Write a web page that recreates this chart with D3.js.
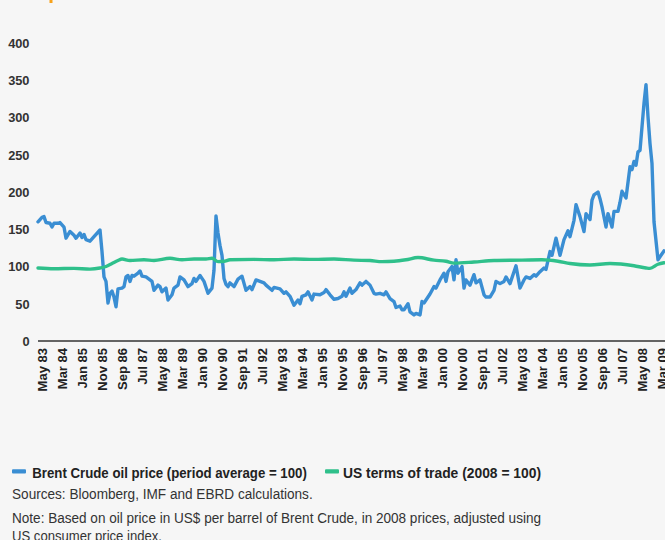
<!DOCTYPE html>
<html><head><meta charset="utf-8">
<script src="https://cdn.jsdelivr.net/npm/d3@7/dist/d3.min.js"></script>
<style>
html,body{margin:0;padding:0;background:#f6f6f6;}
svg{display:block;}
</style></head>
<body>
<script>
const seriesNames = ["Brent Crude oil price (period average = 100)", "US terms of trade (2008 = 100)"];
const seriesColors = ["#3a8ed3", "#2fc08b"];
const yTicks = [0, 50, 100, 150, 200, 250, 300, 350, 400];
const xTickLabels = ["May 83","Mar 84","Jan 85","Nov 85","Sep 86","Jul 87","May 88","Mar 89","Jan 90","Nov 90","Sep 91","Jul 92","May 93","Mar 94","Jan 95","Nov 95","Sep 96","Jul 97","May 98","Mar 99","Jan 00","Nov 00","Sep 01","Jul 02","May 03","Mar 04","Jan 05","Nov 05","Sep 06","Jul 07","May 08","Mar 09"];
const brent = [
["1983-03",160],["1983-05",166],["1983-06",167],["1983-07",159],["1983-09",158],["1983-10",153],["1983-11",158],
["1984-01",158],["1984-02",159],["1984-03",156],["1984-04",153],["1984-05",138],["1984-07",147],["1984-09",142],["1984-10",138],["1984-12",145],
["1985-01",139],["1985-02",143],["1985-03",136],["1985-05",134],["1985-07",140],["1985-10",149],["1985-11",120],["1985-12",86],
["1986-01",80],["1986-02",51],["1986-03",64],["1986-04",67],["1986-05",59],["1986-06",46],["1986-07",70],["1986-09",71],["1986-10",73],["1986-11",86],["1986-12",88],
["1987-01",80],["1987-02",88],["1987-03",87],["1987-05",91],["1987-06",94],["1987-07",87],["1987-09",86],["1987-11",82],["1987-12",80],
["1988-01",68],["1988-03",75],["1988-04",73],["1988-05",66],["1988-07",71],["1988-08",55],["1988-10",62],["1988-11",71],
["1989-01",75],["1989-02",86],["1989-04",82],["1989-06",73],["1989-08",77],["1989-09",84],["1989-10",80],["1989-12",88],
["1990-02",80],["1990-04",64],["1990-06",71],["1990-07",95],["1990-08",168],["1990-09",145],["1990-10",128],["1990-11",115],["1990-12",84],
["1991-01",76],["1991-02",73],["1991-03",78],["1991-05",73],["1991-07",83],["1991-09",87],["1991-11",68],
["1992-01",73],["1992-02",69],["1992-04",82],["1992-06",80],["1992-08",78],["1992-09",75],["1992-12",68],
["1993-01",72],["1993-04",70],["1993-06",64],["1993-07",66],["1993-09",60],["1993-11",48],
["1994-01",55],["1994-02",50],["1994-03",60],["1994-05",62],["1994-06",66],["1994-08",55],["1994-09",63],["1994-12",62],
["1995-02",65],["1995-03",69],["1995-05",62],["1995-07",56],["1995-09",57],["1995-11",60],["1995-12",66],
["1996-01",60],["1996-03",71],["1996-04",64],["1996-06",69],["1996-08",78],["1996-09",75],["1996-11",80],
["1997-01",75],["1997-03",64],["1997-04",63],["1997-06",64],["1997-08",62],["1997-09",66],["1997-11",57],
["1998-01",53],["1998-02",45],["1998-04",47],["1998-05",42],["1998-06",42],["1998-08",50],["1998-09",39],["1998-11",35],["1998-12",37],
["1999-02",35],["1999-03",53],["1999-04",51],["1999-05",55],["1999-07",63],["1999-09",73],["1999-10",71],["1999-12",82],
["2000-02",91],["2000-03",80],["2000-04",93],["2000-06",100],["2000-07",82],["2000-08",109],["2000-09",91],["2000-11",100],["2000-12",71],
["2001-01",82],["2001-03",75],["2001-05",89],["2001-06",78],["2001-08",82],["2001-10",62],["2001-11",59],
["2002-01",59],["2002-03",68],["2002-04",80],["2002-06",77],["2002-08",80],["2002-09",86],["2002-11",77],
["2003-01",93],["2003-02",101],["2003-04",71],["2003-06",82],["2003-07",86],["2003-09",84],["2003-11",89],["2003-12",87],
["2004-02",93],["2004-04",98],["2004-05",96],["2004-07",120],["2004-08",115],["2004-10",138],["2004-12",115],
["2005-02",136],["2005-04",148],["2005-05",140],["2005-07",162],["2005-08",183],["2005-10",167],["2005-12",147],
["2006-01",171],["2006-03",163],["2006-04",189],["2006-05",196],["2006-07",200],["2006-08",191],["2006-09",180],["2006-11",153],["2006-12",171],
["2007-02",153],["2007-03",174],["2007-05",174],["2007-06",186],["2007-07",201],["2007-09",192],["2007-11",234],["2007-12",230],
["2008-01",241],["2008-02",236],["2008-03",254],["2008-04",256],["2008-06",319],["2008-07",344],["2008-08",301],["2008-09",265],["2008-10",238],["2008-11",160],
["2009-01",109],["2009-02",113],["2009-04",121]
];
const termsOfTrade = [
["1983-03",98],["1983-11",97],["1984-09",97.5],["1985-05",96.5],["1985-10",98],["1986-01",100],["1986-04",104],["1986-07",108],["1986-09",110],
["1987-01",108],["1987-08",109],["1988-01",108],["1988-09",111],["1989-03",109],["1989-09",110],["1990-03",110],["1990-06",111],["1990-09",106.5],["1990-12",107],
["1991-03",109],["1992-03",109.5],["1993-01",109],["1993-11",110],["1994-09",109.5],["1995-07",110],["1996-05",108.5],["1997-01",108],["1997-07",106.5],
["1998-01",107],["1998-07",109],["1999-01",112],["1999-09",108.5],["2000-03",107],["2000-07",104.5],["2001-05",106],["2002-03",108],["2003-05",108.5],
["2004-03",109],["2004-11",107],["2005-05",104],["2006-03",102],["2007-01",104],["2008-01",101],["2008-07",98],["2008-09",97.5],["2009-01",103],["2009-04",105]
];
const sourceText = "Sources: Bloomberg, IMF and EBRD calculations.";
const noteLines = ["Note: Based on oil price in US$ per barrel of Brent Crude, in 2008 prices, adjusted using", "US consumer price index."];

const W = 665, H = 540;
const monthNames = ["Jan","Feb","Mar","Apr","May","Jun","Jul","Aug","Sep","Oct","Nov","Dec"];
const idxFromISO = s => { const [yr,m] = s.split("-").map(Number); return (yr-1983)*12 + (m-1); };
const idxFromLabel = s => { const [mn, yy] = s.split(" "); const yr = +yy < 50 ? 2000 + +yy : 1900 + +yy; return (yr-1983)*12 + monthNames.indexOf(mn); };

const svg = d3.select("body").append("svg").attr("width", W).attr("height", H);
svg.append("rect").attr("width", W).attr("height", H).attr("fill", "#f6f6f6");

// cut-off title fragment at the top
svg.append("rect").attr("x", 49.5).attr("y", 0).attr("width", 3).attr("height", 3).attr("fill", "#f7a21b");

const x = d3.scaleLinear().domain([idxFromLabel("May 83"), idxFromLabel("Mar 09")]).range([42, 662]);
const y = d3.scaleLinear().domain([0, 400]).range([341, 43]);

const tickFont = "'Liberation Sans', Arial, Helvetica, sans-serif";

// y axis labels
const yAxis = d3.axisLeft(y).tickValues(yTicks).tickSize(0).tickPadding(0);
const gy = svg.append("g").attr("transform", "translate(29.5,0)").call(yAxis);
gy.select(".domain").remove();
gy.selectAll("text").attr("font-family", tickFont).attr("font-weight", "bold").attr("font-size", 12.8).attr("fill", "#333").attr("dy", "0.35em");

// x axis
const xAxis = d3.axisBottom(x).tickValues(xTickLabels.map(idxFromLabel)).tickFormat((d, i) => xTickLabels[i]).tickSize(0).tickPadding(0);
const gx = svg.append("g").attr("transform", "translate(0,341)").call(xAxis);
gx.select(".domain").remove();
gx.selectAll("text")
  .attr("font-family", tickFont).attr("font-weight", "bold").attr("font-size", 13).attr("fill", "#222")
  .attr("transform", "rotate(-90)").attr("text-anchor", "end").attr("x", -7).attr("y", 0).attr("dy", "0.35em");
svg.append("line").attr("x1", 38).attr("x2", 665).attr("y1", 341).attr("y2", 341).attr("stroke", "#333").attr("stroke-width", 1.3);

const line = d3.line().x(d => x(idxFromISO(d[0]))).y(d => y(d[1]));
svg.append("path").datum(brent).attr("d", line).attr("fill", "none").attr("stroke", seriesColors[0]).attr("stroke-width", 3.4).attr("stroke-linejoin", "round").attr("stroke-linecap", "round");
svg.append("path").datum(termsOfTrade).attr("d", line.curve(d3.curveMonotoneX)).attr("fill", "none").attr("stroke", seriesColors[1]).attr("stroke-width", 3.4).attr("stroke-linejoin", "round").attr("stroke-linecap", "round");

// legend and notes (condensed look via textLength)
const txtFont = "'Liberation Sans', Arial, sans-serif";
const legSwatchX = [12, 325];
const legTextX = [32.3, 343];
const legTextLen = [274.5, 198];
seriesNames.forEach((n, i) => {
  svg.append("rect").attr("x", legSwatchX[i]).attr("y", 469.3).attr("width", 14).attr("height", 4.2).attr("rx", 1).attr("fill", seriesColors[i]);
  svg.append("text").attr("x", legTextX[i]).attr("y", 478.3).attr("font-family", txtFont).attr("font-weight", "bold").attr("font-size", 15.5)
    .attr("fill", "#222").attr("textLength", legTextLen[i]).attr("lengthAdjust", "spacingAndGlyphs").text(n);
});
svg.append("text").attr("x", 12).attr("y", 499.3).attr("font-family", txtFont).attr("font-size", 15.5).attr("fill", "#333")
  .attr("textLength", 300.7).attr("lengthAdjust", "spacingAndGlyphs").text(sourceText);
const noteLen = [529, 150];
noteLines.forEach((t, i) => {
  svg.append("text").attr("x", 12).attr("y", 523.3 + i * 18).attr("font-family", txtFont).attr("font-size", 15.5).attr("fill", "#333")
    .attr("textLength", noteLen[i]).attr("lengthAdjust", "spacingAndGlyphs").text(t);
});
</script>
</body></html>
